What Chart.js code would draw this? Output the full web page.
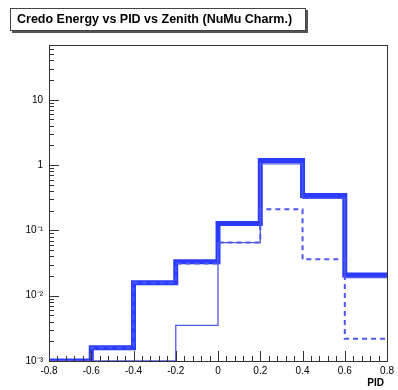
<!DOCTYPE html>
<html>
<head>
<meta charset="utf-8">
<script src="https://cdn.jsdelivr.net/npm/chart.js@4/dist/chart.umd.min.js"></script>
<style>
  html, body { margin: 0; padding: 0; background: #fff; }
  #wrap { width: 398px; height: 390px; }
</style>
</head>
<body>
<div id="wrap"><canvas id="pidCanvas" width="398" height="390"></canvas></div>
<script>
// PID bins (edges) and bin contents per histogram
const binEdges = [-0.8, -0.6, -0.4, -0.2, 0, 0.2, 0.4, 0.6, 0.8];
const totalCounts = [0.001, 0.0016, 0.0158, 0.033, 0.128, 1.18, 0.342, 0.0208];
const charmCounts = [0, 0, 0, 0.0035, 0.065, 1.04, 0.31, 0.019];
const otherCounts = [0.001, 0.0016, 0.0158, 0.031, 0.065, 0.21, 0.036, 0.0022];

const xTickLabels = ['-0.8', '-0.6', '-0.4', '-0.2', '0', '0.2', '0.4', '0.6', '0.8'];
const yTickValues = [0.001, 0.01, 0.1, 1, 10];
const yTickLabels = ['10⁻³', '10⁻²', '10⁻¹', '1', '10'];

const titleText = 'Credo Energy vs PID vs Zenith (NuMu Charm.)';
const xTitle = 'PID';

const yMin = 0.001;
const yMax = 69;

// histogram -> step points (last bin repeated at the right edge),
// empty bins sit on the axis floor like ROOT draws them
function histPoints(vals) {
    return binEdges.map((e, i) => ({ x: e, y: Math.max(vals[Math.min(i, vals.length - 1)], yMin) }));
}

// ROOT-like frame, inner ticks and title pave
const rootStyle = {
    id: 'rootStyle',
    afterDraw(chart) {
        const ctx = chart.ctx;
        const a = chart.chartArea;
        const xs = chart.scales.x;
        const ys = chart.scales.y;
        ctx.save();
        ctx.strokeStyle = '#333';
        ctx.lineWidth = 1;
        ctx.strokeRect(Math.round(a.left) + 0.5, Math.round(a.top) + 0.5,
                       Math.round(a.right - a.left), Math.round(a.bottom - a.top));

        ctx.beginPath();
        // y ticks: decades long, 2..9 short
        for (let d = -3; d <= 1; d++) {
            for (let m = 1; m <= 9; m++) {
                const v = m * Math.pow(10, d);
                if (v < ys.min || v > ys.max) continue;
                const py = Math.round(ys.getPixelForValue(v)) + 0.5;
                const len = m === 1 ? 10 : 5;
                ctx.moveTo(a.left, py);
                ctx.lineTo(a.left + len, py);
            }
        }
        // x ticks every 0.04, long every 0.2
        for (let i = 0; i <= 40; i++) {
            const v = -0.8 + i * 0.04;
            const px = Math.round(xs.getPixelForValue(v)) + 0.5;
            const len = i % 5 === 0 ? 10 : 5;
            ctx.moveTo(px, a.bottom);
            ctx.lineTo(px, a.bottom - len);
        }
        ctx.stroke();

        // title pave with shadow
        ctx.fillStyle = '#555';
        ctx.fillRect(12, 10, 296, 23);
        ctx.fillStyle = '#fff';
        ctx.fillRect(10, 8, 296, 23);
        ctx.strokeStyle = '#444';
        ctx.strokeRect(10.5, 8.5, 295, 22);
        ctx.fillStyle = '#000';
        ctx.font = 'bold 12.5px "Liberation Sans", Arial, sans-serif';
        ctx.textBaseline = 'middle';
        ctx.textAlign = 'left';
        ctx.fillText(titleText, 17, 20);

        // axis title
        ctx.font = 'bold 10px "Liberation Sans", Arial, sans-serif';
        ctx.textAlign = 'right';
        ctx.fillText(xTitle, 384, 383);
        ctx.restore();
    }
};

const tickFont = { family: '"Liberation Sans", Arial, sans-serif', size: 10 };

new Chart(document.getElementById('pidCanvas').getContext('2d'), {
    type: 'line',
    data: {
        datasets: [
            {
                data: histPoints(otherCounts),
                borderColor: '#4b57f0',
                borderWidth: 2,
                borderDash: [5, 4],
                stepped: 'before',
                pointRadius: 0,
                order: 1
            },
            {
                data: histPoints(charmCounts),
                borderColor: '#4f5be0',
                borderWidth: 1.3,
                stepped: 'before',
                pointRadius: 0,
                order: 2
            },
            {
                data: histPoints(totalCounts),
                borderColor: '#2b3bff',
                borderWidth: 5,
                stepped: 'before',
                pointRadius: 0,
                order: 3
            }
        ]
    },
    options: {
        responsive: false,
        animation: false,
        layout: { padding: { top: 45, right: 8, left: 0, bottom: 0 } },
        plugins: {
            legend: { display: false },
            tooltip: { enabled: false }
        },
        scales: {
            x: {
                type: 'linear',
                min: -0.8,
                max: 0.8,
                afterBuildTicks: s => { s.ticks = binEdges.map(v => ({ value: v })); },
                afterFit: s => { s.height = 29; },
                grid: { display: false, drawTicks: false },
                border: { display: false },
                ticks: {
                    autoSkip: false,
                    maxRotation: 0,
                    padding: 4,
                    color: '#000',
                    font: tickFont,
                    callback: (v, i) => xTickLabels[i]
                }
            },
            y: {
                type: 'logarithmic',
                min: yMin,
                max: yMax,
                afterBuildTicks: s => { s.ticks = yTickValues.map(v => ({ value: v })); },
                afterFit: s => { s.width = 49; },
                grid: { display: false, drawTicks: false },
                border: { display: false },
                ticks: {
                    autoSkip: false,
                    padding: 6,
                    color: '#000',
                    font: tickFont,
                    callback: (v, i) => yTickLabels[i]
                }
            }
        }
    },
    plugins: [rootStyle]
});
</script>
</body>
</html>
